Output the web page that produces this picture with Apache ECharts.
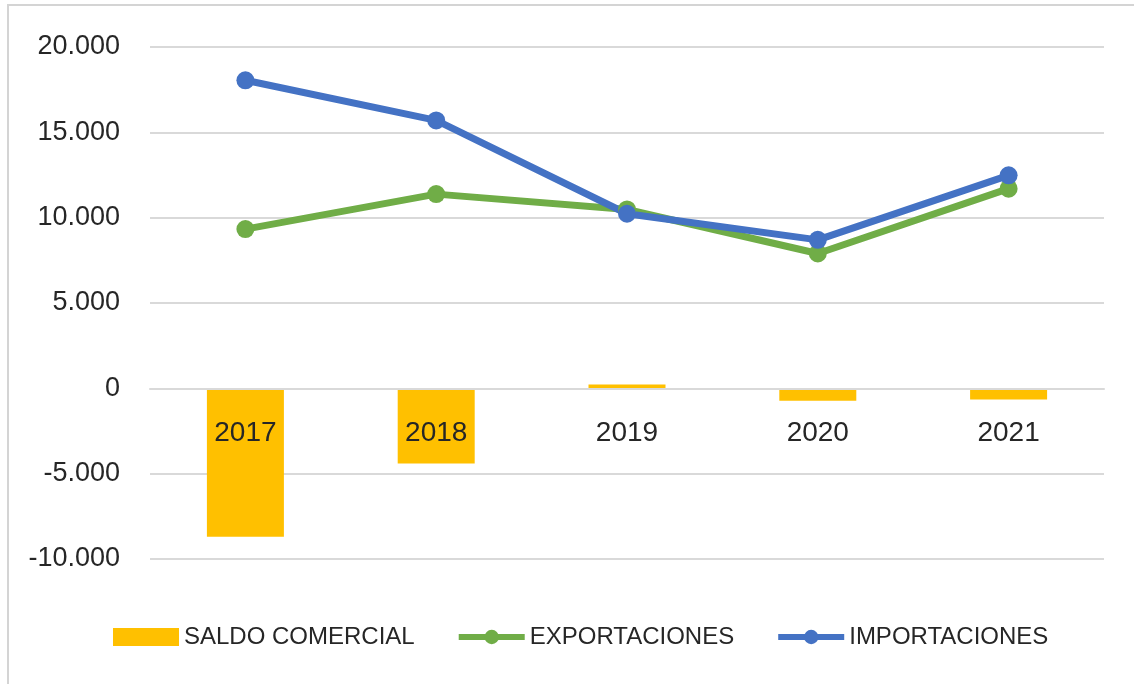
<!DOCTYPE html>
<html>
<head>
<meta charset="utf-8">
<script src="https://cdn.jsdelivr.net/npm/echarts@6/dist/echarts.min.js"></script>
<style>
  html, body { margin: 0; padding: 0; background: #fff; }
  #chart { width: 1134px; height: 684px; }
</style>
</head>
<body>
<div id="chart"></div>
<script>
// datos
const years = ['2017', '2018', '2019', '2020', '2021']
const saldo = [-8700, -4400, 230, -730, -660]
const exportaciones = [9330, 11380, 10480, 7900, 11700]
const importaciones = [18050, 15700, 10230, 8700, 12480]
const yTicks = { min: -10000, max: 20000, step: 5000 }

const gold = '#FFC000'
const green = '#70AD47'
const blue = '#4472C4'
const grid = '#d9d9d9'

// 20000 -> "20.000"
function fmt(v) {
    const s = String(Math.abs(v)).replace(/\B(?=(\d{3})+(?!\d))/g, '.')
    return (v < 0 ? '-' : '') + s
}

const chart = echarts.init(document.getElementById('chart'))

const option = {
    animation: false,
    backgroundColor: '#fff',
    graphic: [{
        type: 'rect',
        shape: { x: 8, y: 5, width: 1300, height: 900 },
        style: { fill: 'none', stroke: '#d4d4d4', lineWidth: 2 },
        silent: true
    }],
    grid: { left: 150, right: 30, top: 47, bottom: 125 },
    legend: {
        left: 108,
        top: 620,
        itemWidth: 66,
        itemHeight: 18,
        itemGap: 41,
        textStyle: {
            fontFamily: "'Liberation Sans Narrow', 'Liberation Sans', sans-serif",
            fontSize: 24,
            color: '#262626'
        },
        data: [
            { name: 'SALDO COMERCIAL', icon: 'rect' },
            { name: 'EXPORTACIONES', lineStyle: { width: 6 } },
            { name: 'IMPORTACIONES', lineStyle: { width: 6 } }
        ]
    },
    xAxis: {
        type: 'category',
        data: years,
        z: 10,
        // etiquetas pegadas a la linea del cero (170 px por encima del borde inferior)
        offset: -170,
        axisLine: { show: true, onZero: false, lineStyle: { color: grid, width: 2 } },
        axisTick: { show: false },
        axisLabel: {
            margin: 30,
            fontFamily: "'Liberation Sans', sans-serif",
            fontSize: 28,
            color: '#262626'
        }
    },
    yAxis: {
        type: 'value',
        min: yTicks.min,
        max: yTicks.max,
        interval: yTicks.step,
        axisLine: { show: false },
        axisTick: { show: false },
        splitLine: { lineStyle: { color: grid, width: 2 } },
        axisLabel: {
            margin: 30,
            fontFamily: "'Liberation Sans', sans-serif",
            fontSize: 27,
            color: '#262626',
            formatter: fmt
        }
    },
    series: [
        {
            name: 'SALDO COMERCIAL',
            type: 'bar',
            data: saldo,
            barWidth: 77,
            itemStyle: { color: gold }
        },
        {
            name: 'EXPORTACIONES',
            type: 'line',
            data: exportaciones,
            symbol: 'circle',
            symbolSize: 18,
            lineStyle: { color: green, width: 7 },
            itemStyle: { color: green }
        },
        {
            name: 'IMPORTACIONES',
            type: 'line',
            data: importaciones,
            symbol: 'circle',
            symbolSize: 18,
            lineStyle: { color: blue, width: 7 },
            itemStyle: { color: blue }
        }
    ]
}

chart.setOption(option)
</script>
</body>
</html>
